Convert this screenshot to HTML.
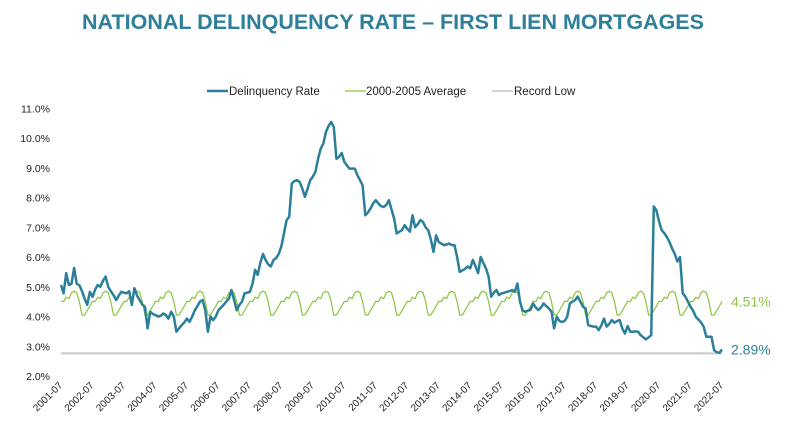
<!DOCTYPE html>
<html><head><meta charset="utf-8">
<style>
html,body{margin:0;padding:0;background:#fff;}
body{width:787px;height:442px;overflow:hidden;font-family:"Liberation Sans",sans-serif;}
</style></head>
<body>
<svg id="chart" width="787" height="442" viewBox="0 0 787 442" xmlns="http://www.w3.org/2000/svg">
<text x="393" y="29" text-anchor="middle" font-family="Liberation Sans, sans-serif" font-weight="bold" font-size="21.5" fill="#2e7f9a">NATIONAL DELINQUENCY RATE – FIRST LIEN MORTGAGES</text>
<g font-size="11.5" fill="#222">
  <g><line x1="207" y1="91" x2="228" y2="91" stroke="#2b7f9a" stroke-width="2.5"/><text x="229" y="95">Delinquency Rate</text></g>
  <g><line x1="345" y1="91" x2="366" y2="91" stroke="#8cc43f" stroke-width="1.2"/><text x="366" y="95">2000-2005 Average</text></g>
  <g><line x1="492" y1="91" x2="513" y2="91" stroke="#bbb" stroke-width="1.2"/><text x="514" y="95">Record Low</text></g>
</g>
<g id="yaxis"></g>
<g id="xaxis"></g>
<g id="series"></g>
</svg>
<script>
const yTicks = [2,3,4,5,6,7,8,9,10,11];
const xTickLabels = ["2001-07","2002-07","2003-07","2004-07","2005-07","2006-07","2007-07","2008-07","2009-07","2010-07","2011-07","2012-07","2013-07","2014-07","2015-07","2016-07","2017-07","2018-07","2019-07","2020-07","2021-07","2022-07"];
// seasonal 2000-2005 average by calendar month, starting July
const avgByMonthFromJul = [4.51,4.5,4.65,4.6,4.8,4.85,4.8,4.5,4.05,4.05,4.2,4.35];
const recordLow = 2.76;
const delinquency = [
5.06,4.78,5.46,5.06,5.1,5.63,5.1,5.05,4.85,4.6,4.39,4.83,
4.66,4.9,5.06,5.0,5.2,5.34,5.0,4.85,4.72,4.55,4.7,4.83,
4.8,4.78,4.85,4.39,4.95,4.7,4.55,4.4,4.33,3.6,4.16,4.08,
4.05,4.0,4.02,4.1,4.05,3.93,4.16,4.0,3.49,3.6,3.71,3.8,
3.93,3.82,4.0,4.21,4.35,4.5,4.55,4.21,3.49,4.0,3.88,4.0,
4.21,4.3,4.39,4.5,4.6,4.89,4.55,4.21,4.39,4.5,4.78,4.8,
4.83,5.1,5.57,5.4,5.8,6.1,5.9,5.75,5.68,5.9,5.96,6.1,
6.35,6.8,7.24,7.35,8.47,8.55,8.58,8.52,8.3,8.02,8.3,8.58,
8.7,8.86,9.3,9.64,9.81,10.2,10.4,10.54,10.37,9.3,9.36,9.5,
9.2,9.08,8.97,8.97,8.97,8.75,8.58,8.41,7.4,7.5,7.63,7.8,
7.91,7.8,7.71,7.68,7.75,7.91,7.6,7.29,6.79,6.85,6.9,7.07,
6.95,6.85,7.4,7.0,7.1,7.24,7.18,7.0,6.9,6.6,6.17,6.73,
6.5,6.45,6.4,6.42,6.45,6.4,6.4,6.0,5.5,5.55,5.6,5.68,
5.62,5.9,5.7,5.46,6.0,5.8,5.62,5.34,4.67,4.8,4.89,4.72,
4.78,4.8,4.83,4.85,4.89,4.83,5.11,4.5,4.2,4.16,4.2,4.22,
4.44,4.3,4.22,4.3,4.44,4.35,4.27,4.16,3.6,3.99,3.85,3.82,
3.85,3.99,4.44,4.5,4.55,4.67,4.5,4.33,4.27,3.71,3.68,3.66,
3.66,3.54,3.7,3.93,3.66,3.75,3.88,3.79,3.85,3.88,3.6,3.43,
3.68,3.49,3.49,3.5,3.49,3.37,3.3,3.23,3.3,3.37,7.7,7.57,
7.2,6.9,6.8,6.67,6.5,6.28,6.1,5.85,6.0,4.78,4.67,4.5,
4.33,4.2,3.99,3.9,3.8,3.66,3.32,3.32,3.32,2.87,2.8,2.78,2.89];

const NS="http://www.w3.org/2000/svg";
const X0=61, X1=722, Y0=376, PER=29.75;
const n=delinquency.length;
const xS=i=>X0+(X1-X0)*i/(n-1);
const yS=v=>Y0-(v-2)*PER;
function mk(tag,attrs,parent){const e=document.createElementNS(NS,tag);for(const k in attrs)e.setAttribute(k,attrs[k]);parent.appendChild(e);return e;}
const yAxis=document.getElementById('yaxis'), xAxis=document.getElementById('xaxis'), ser=document.getElementById('series');
yTicks.forEach(t=>{
  const tx=mk('text',{x:50,y:yS(t)+4,'text-anchor':'end','font-size':'10.5',fill:'#222'},yAxis);
  
  
  tx.textContent=t.toFixed(1)+'%';
});
xTickLabels.forEach((l,k)=>{
  const x=xS(k*12)+2, y=386;
  const tx=mk('text',{x:x,y:y,'text-anchor':'end','font-size':'10','fill':'#222',transform:`rotate(-45 ${x} ${y})`},xAxis);
  
  
  tx.textContent=l;
});
// record low
const rl=mk('line',{x1:X0,x2:X1,y1:yS(recordLow),y2:yS(recordLow),stroke:'#c8c8c8','stroke-width':2},ser);


// average
const avg=delinquency.map((_,i)=>avgByMonthFromJul[i%12]);
const ap=mk('polyline',{points:avg.map((v,i)=>xS(i).toFixed(1)+','+yS(v).toFixed(1)).join(' '),fill:'none',stroke:'#8cc43f','stroke-width':1.2},ser);


const dp=mk('polyline',{points:delinquency.map((v,i)=>xS(i).toFixed(1)+','+yS(v).toFixed(1)).join(' '),fill:'none',stroke:'#2b7f9a','stroke-width':2.5,'stroke-linejoin':'round'},ser);


const la=mk('text',{x:731,y:yS(avg[n-1])+5,'font-size':'14',fill:'#8cc43f'},ser);


la.textContent=avg[n-1].toFixed(2)+'%';
const ld=mk('text',{x:731,y:yS(delinquency[n-1])+5,'font-size':'14',fill:'#2b7f9a'},ser);


ld.textContent=delinquency[n-1].toFixed(2)+'%';
</script>
</body></html>
